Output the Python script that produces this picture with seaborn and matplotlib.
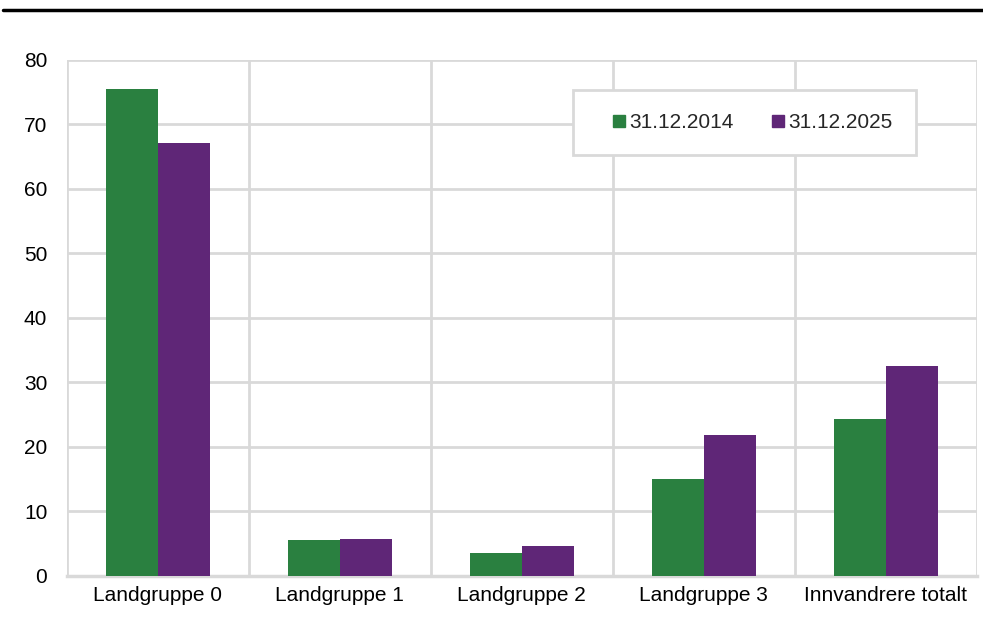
import pandas as pd
import numpy as np
from matplotlib import pyplot as plt
from matplotlib.lines import Line2D
import seaborn as sns

# ---------------- data ----------------
groups = ['Landgruppe 0', 'Landgruppe 1', 'Landgruppe 2', 'Landgruppe 3', 'Innvandrere totalt']
dates = ['31.12.2014', '31.12.2025']
val_2014 = [75.5, 5.5, 3.6, 15.1, 24.4]
val_2025 = [67.2, 5.8, 4.7, 21.9, 32.6]
y_ticks = [0, 10, 20, 30, 40, 50, 60, 70, 80]

colors = ['#2a8040', '#5f2677']
grid_col = '#d9d9d9'

sns.set_style("white")
plt.rcParams['font.family'] = ['Liberation Sans', 'DejaVu Sans']

df = pd.DataFrame({'Gruppe': groups * 2,
                   'Dato': [dates[0]] * 5 + [dates[1]] * 5,
                   'Verdi': val_2014 + val_2025})

fig = plt.figure(figsize=(9.83, 6.17), dpi=100)
ax = fig.add_axes([0.0679, 0.0665, 0.9257, 0.8363])

sns.barplot(data=df, x='Gruppe', y='Verdi', hue='Dato', palette=colors,
            width=0.57, gap=0, saturation=1, ax=ax, legend=False, zorder=3,
            edgecolor='none')

ax.set_xlim(-0.5, 4.5)
ax.set_ylim(0, 80)
ax.set_yticks(y_ticks)
ax.set_xticks(np.arange(-0.5, 5, 1), minor=True)
ax.grid(axis='y', which='major', color=grid_col, linewidth=2, zorder=0)
ax.grid(axis='x', which='minor', color=grid_col, linewidth=2, zorder=0)
ax.grid(axis='x', which='major', visible=False)
ax.tick_params(which='both', length=0, labelsize=15, colors='black', pad=7)
ax.tick_params(axis='y', pad=14)
ax.set_xlabel('')
ax.set_ylabel('')
for s in ['top', 'right', 'left']:
    ax.spines[s].set_visible(False)
ax.spines['bottom'].set_color(grid_col)
ax.spines['bottom'].set_linewidth(2.5)

handles = [Line2D([], [], marker='s', linestyle='none', markersize=9,
                  markerfacecolor=c, markeredgecolor=c) for c in colors]
leg = ax.legend(handles, dates, loc='upper left', bbox_to_anchor=(0.556, 0.942),
                ncol=2, fontsize=15, frameon=True, fancybox=False,
                handletextpad=-0.6, columnspacing=1.05, borderpad=1.1,
                handlelength=2.2, borderaxespad=0)
leg.get_frame().set_edgecolor(grid_col)
leg.get_frame().set_linewidth(2)
leg.get_frame().set_alpha(1)

# black rule at the top
fig.add_artist(Line2D([0.003, 1.0], [0.983, 0.983], color='black', linewidth=2.5,
                      transform=fig.transFigure))

fig.savefig('out.png', dpi=100)
